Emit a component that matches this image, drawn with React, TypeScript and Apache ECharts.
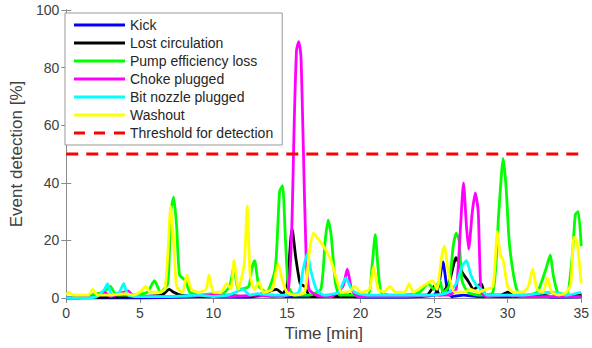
import React, { useEffect, useRef } from "react";
import * as echarts from "echarts";

type Pt = [number, number];

const seriesNames = [
  "Kick",
  "Lost circulation",
  "Pump efficiency loss",
  "Choke plugged",
  "Bit nozzle plugged",
  "Washout",
];
const seriesColors = ["#0000ff", "#000000", "#00ff00", "#ff00ff", "#00ffff", "#ffff00"];
const thresholdName = "Threshold for detection";
const thresholdValue = 50;
const timeRange: Pt = [0, 35];

const kick: Pt[] = [
  [0, 0], [5, 0], [9, 0.5], [12, 0.3], [14, 1], [15, 0.5], [17, 0.5], [18.8, 0.5], [19.1, 2],
  [19.5, 0.5], [22, 0.3], [24, 0.5], [25, 1], [25.3, 4], [25.6, 12.5], [25.9, 3], [26.2, 0.5],
  [27, 1], [28, 0.5], [30, 0.5], [32, 1], [33, 0.3], [35, 0.5],
];

const lostCirculation: Pt[] = [
  [0, 0], [3, 0.3], [5, 0.5], [6.5, 1], [7, 3], [7.3, 2], [7.8, 1], [9, 0.5], [11, 1], [12, 0.5],
  [13, 1], [14.3, 3], [14.7, 1.5], [15, 4], [15.35, 24], [15.6, 14], [15.9, 5], [16.2, 4],
  [16.5, 1], [17, 0.5], [20, 0.5], [23, 1], [24.5, 1], [25, 4], [25.4, 1], [26, 5], [26.5, 14],
  [26.9, 9], [27.3, 6], [27.7, 3], [28.2, 5], [28.5, 1], [29.5, 1], [30, 2], [30.5, 0.5],
  [32, 1], [33, 2], [33.5, 0.5], [35, 1],
];

const pumpEfficiencyLoss: Pt[] = [
  [0, 0], [1, 0.5], [2.5, 2], [3, 4], [3.4, 1], [4.5, 1], [5.5, 2], [6, 6], [6.4, 2], [6.9, 5],
  [7.1, 30], [7.3, 35], [7.5, 25], [7.7, 8], [8.1, 6], [8.4, 2], [9, 1], [10, 1.5], [10.5, 1],
  [11.1, 4], [11.4, 11], [11.7, 3], [12.4, 4], [12.6, 10], [12.8, 13], [13.1, 4], [13.6, 2],
  [14.2, 10], [14.5, 37], [14.7, 39], [14.9, 20], [15.1, 4], [15.5, 1], [16.5, 1], [17.3, 3],
  [17.6, 20], [17.8, 27], [18, 22], [18.3, 5], [18.6, 1], [19.5, 1], [20.5, 1], [20.8, 12],
  [21, 22], [21.2, 10], [21.4, 2], [22, 1], [23, 1], [24, 2], [24.6, 5], [25, 3], [25.4, 6],
  [25.6, 2], [26, 4], [26.3, 18], [26.5, 22.5], [26.7, 20], [26.9, 6], [27.3, 2], [28, 1],
  [29, 2], [29.4, 30], [29.7, 48.5], [29.9, 38], [30.1, 20], [30.4, 8], [30.7, 2], [31.2, 1],
  [32, 2], [32.6, 10], [32.9, 15], [33.1, 8], [33.4, 2], [34, 1], [34.4, 15], [34.6, 29],
  [34.8, 30], [35, 18],
];

const chokePlugged: Pt[] = [
  [0, 0], [2, 0.5], [2.6, 2], [3, 0.5], [4.2, 2.5], [4.6, 0.5], [6, 0.5], [8, 0.5], [10, 1],
  [11, 0.5], [13, 1], [14, 0.5], [15, 1], [15.3, 20], [15.5, 62], [15.65, 86], [15.8, 89],
  [15.95, 84], [16.1, 55], [16.3, 15], [16.5, 3], [17, 1], [18, 0.5], [18.8, 4], [19.1, 10],
  [19.4, 3], [19.8, 0.5], [21, 0.5], [23, 0.5], [25, 1], [26, 1], [26.5, 3], [26.8, 25], [27, 40],
  [27.2, 25], [27.35, 17], [27.6, 30], [27.8, 36.5], [28, 30], [28.2, 2], [28.6, 0.5], [30, 1],
  [31, 0.5], [33, 0.5], [35, 0.5],
];

const bitNozzlePlugged: Pt[] = [
  [0, 0], [2, 0.3], [2.6, 3], [2.8, 5], [3.1, 1], [3.6, 2], [3.9, 5], [4.2, 1], [5, 0.5], [7, 0.5],
  [9, 1], [10, 0.5], [11, 1], [11.5, 2], [12, 3], [12.5, 1], [13, 1.5], [14, 1], [15, 1],
  [15.8, 2], [16.1, 10], [16.4, 15.5], [16.6, 10], [17, 3], [17.5, 1], [18.5, 2], [19, 7],
  [19.3, 4], [19.6, 2], [20.5, 1], [22, 1], [24, 1], [25, 1], [26, 2], [26.5, 5], [26.9, 11],
  [27.2, 13], [27.5, 8], [27.8, 5], [28.2, 3], [28.6, 1], [29.5, 1], [31, 1], [32, 1.5], [33, 2],
  [34, 1], [35, 2],
];

const washout: Pt[] = [
  [0, 1], [0.2, 2], [0.5, 1], [1.5, 1], [1.8, 3], [2.1, 1], [3, 1], [4, 1.5], [4.5, 1], [5, 2],
  [5.4, 4], [5.7, 2], [6.3, 2], [6.7, 3], [6.9, 15], [7.1, 32], [7.3, 20], [7.5, 4], [7.9, 2],
  [8.2, 8], [8.5, 3], [9, 2], [9.5, 3], [9.7, 8], [10, 2], [10.5, 2], [10.9, 5], [11.2, 3],
  [11.4, 13], [11.7, 3], [12.1, 12], [12.3, 32], [12.5, 8], [12.8, 3], [13.1, 5.5], [13.4, 2],
  [14, 3], [14.4, 12], [14.7, 6], [15, 2], [15.5, 1], [16.2, 2], [16.5, 15], [16.8, 22.5],
  [17.2, 20], [17.6, 17], [18, 13], [18.4, 6], [18.7, 2], [19.2, 2], [19.6, 4], [20, 2],
  [20.6, 3], [20.9, 11], [21.2, 3], [21.6, 2], [22, 4], [22.4, 2], [23, 2], [23.3, 5], [23.6, 2],
  [24.2, 4], [24.5, 5], [24.9, 6], [25.2, 3], [25.5, 14], [25.7, 18], [26, 8], [26.4, 2],
  [27, 2], [27.5, 3], [28, 2], [28.5, 3], [29, 4], [29.3, 23], [29.5, 15], [29.7, 13], [30, 4],
  [30.4, 2], [31, 2], [31.4, 4], [31.7, 10], [32, 3], [32.4, 2], [32.7, 7], [33, 2], [33.5, 1],
  [34, 2], [34.3, 5], [34.5, 21], [34.7, 20], [35, 5],
];

const allSeries: Pt[][] = [
  kick,
  lostCirculation,
  pumpEfficiencyLoss,
  chokePlugged,
  bitNozzlePlugged,
  washout,
];

const FONT = "'Liberation Sans', Arial, Helvetica, sans-serif";
const AXIS_GRAY = "#8a8a8a";
const TEXT_GRAY = "#404040";

export default function App() {
  const ref = useRef<HTMLDivElement>(null);

  useEffect(() => {
    if (!ref.current) return;
    const chart = echarts.init(ref.current, undefined, { renderer: "svg" });

    const axisCommon = {
      type: "value" as const,
      axisLine: { show: true, lineStyle: { color: AXIS_GRAY, width: 1 } },
      axisTick: { show: true, inside: true, length: 5, lineStyle: { color: AXIS_GRAY } },
      splitLine: { show: false },
    };

    const lineSeries = allSeries.map((data, i) => ({
      name: seriesNames[i],
      type: "line" as const,
      data,
      showSymbol: false,
      symbol: "none",
      smooth: 0.2,
      color: seriesColors[i],
      itemStyle: { color: seriesColors[i] },
      lineStyle: { color: seriesColors[i], width: 2.8, join: "round" as const },
      z: 2 + i,
    }));

    const option = {
      animation: false,
      backgroundColor: "#ffffff",
      grid: { left: 62, right: 8, top: 10, bottom: 50 },
      xAxis: [
        {
          ...axisCommon,
          position: "bottom",
          min: timeRange[0],
          max: timeRange[1],
          interval: 5,
          name: "Time [min]",
          nameLocation: "middle",
          nameGap: 26,
          nameTextStyle: { color: TEXT_GRAY, fontSize: 17, fontFamily: FONT },
          axisLabel: { color: TEXT_GRAY, fontSize: 14, fontFamily: FONT, margin: 8 },
        },
        {
          ...axisCommon,
          position: "top",
          min: timeRange[0],
          max: timeRange[1],
          interval: 5,
          axisLabel: { show: false },
        },
      ],
      yAxis: [
        {
          ...axisCommon,
          position: "left",
          min: 0,
          max: 100,
          interval: 20,
          name: "Event detection [%]",
          nameLocation: "middle",
          nameGap: 37,
          nameTextStyle: { color: TEXT_GRAY, fontSize: 17, fontFamily: FONT },
          axisLabel: { color: TEXT_GRAY, fontSize: 14, fontFamily: FONT, margin: 7 },
        },
        {
          ...axisCommon,
          position: "right",
          min: 0,
          max: 100,
          interval: 20,
          axisLabel: { show: false },
        },
      ],
      legend: {
        orient: "vertical",
        left: 65,
        top: 13,
        padding: [5, 9, 5, 9],
        itemGap: 4,
        itemWidth: 51,
        itemHeight: 3,
        backgroundColor: "#ffffff",
        borderColor: "#999999",
        borderWidth: 1,
        selectedMode: false,
        textStyle: { color: "#262626", fontSize: 14, fontFamily: FONT, lineHeight: 14 },
        data: [
          ...seriesNames.map((n) => ({ name: n, icon: "rect" })),
          {
            name: thresholdName,
            icon: "path://M0,0h11v3H0zM20,0h11v3H20zM40,0h11v3H40z",
          },
        ],
      },
      series: [
        ...lineSeries,
        {
          name: thresholdName,
          type: "line" as const,
          data: [
            [timeRange[0], thresholdValue],
            [timeRange[1], thresholdValue],
          ],
          showSymbol: false,
          symbol: "none",
          color: "#ff0000",
          itemStyle: { color: "#ff0000" },
          lineStyle: { color: "#ff0000", width: 3, type: [12, 8] },
          z: 10,
        },
      ],
    };

    chart.setOption(option as any);
    return () => chart.dispose();
  }, []);

  return (
    <div
      ref={ref}
      style={{ position: "fixed", left: 0, top: 0, width: 592, height: 348, background: "#fff" }}
    />
  );
}
